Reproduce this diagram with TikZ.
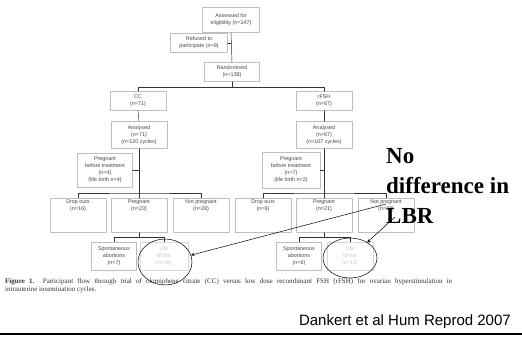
\documentclass[tikz,border=0pt]{standalone}
\usepackage{fontspec}
\setmainfont{Liberation Serif}
\newfontfamily\arialfont{Liberation Sans}
\usetikzlibrary{shapes.geometric}
\tikzset{
	flowbox/.style={draw=gray!50, line width=0.7pt, fill=white, align=center, inner sep=1pt,
		font=\arialfont\fontsize{5.4}{7}\selectfont, text=gray!55!black},
	rowbox/.style={flowbox, minimum width=56, minimum height=34, anchor=north, text height=9, text depth=19},
	flowline/.style={draw=gray!40!black, line width=0.5pt},
	lbrring/.style={draw, ellipse, line width=0.5pt, inner sep=0pt}
}
\begin{document}
\begin{tikzpicture}[x=1pt, y=-1pt, line cap=round, line join=round, >=stealth]
			\useasboundingbox (0,0) rectangle (522,338);
			% top of the chart
			\node[flowbox, minimum width=57, minimum height=25] (assess) at (231,20) {Assessed for\\eligibility (n=147)};
			\node[flowbox, minimum width=57, minimum height=19] (refused) at (199,43) {Refused to\\participate (n=9)};
			\node[flowbox, minimum width=55, minimum height=19] (random) at (232,72) {Randomised\\(n=138)};
			\node[flowbox, minimum width=56, minimum height=19] (cc) at (138,101) {CC\\(n=71)};
			\node[flowbox, minimum width=56, minimum height=19] (rfsh) at (324,101) {rFSH\\(n=67)};
			% analysed and pregnant before treatment
			\node[flowbox, minimum width=56, minimum height=27] (anaCC) at (139,135) {Analysed\\(n=71)\\(n=120 cycles)};
			\node[flowbox, minimum width=56, minimum height=27] (anaR) at (324,135) {Analysed\\(n=67)\\(n=107 cycles)};
			\node[flowbox, minimum width=55, minimum height=34] (pbtCC) at (105,170) {Pregnant\\before treatment\\(n=4)\\(life birth n=4)};
			\node[flowbox, minimum width=58, minimum height=36] (pbtR) at (291,170) {Pregnant\\before treatment\\(n=7)\\(life birth n=2)};
			% outcome rows
			\node[rowbox] (dropCC) at (78,198) {Drop outs\\(n=16)};
			\node[rowbox] (pregCC) at (139,198) {Pregnant\\(n=23)};
			\node[rowbox] (notCC) at (201,198) {Not pregnant\\(n=28)};
			\node[rowbox] (dropR) at (263,198) {Drop outs\\(n=6)};
			\node[rowbox] (pregR) at (324,198) {Pregnant\\(n=21)};
			\node[rowbox] (notR) at (386,198) {Not pregnant\\(n=33)};
			\node[flowbox, minimum width=45, minimum height=28] (spCC) at (114,256) {Spontaneous\\abortions\\(n=7)};
			\node[flowbox, minimum width=48, minimum height=28, draw=gray!30, text=gray!45] (lbCC) at (164,256) {Life\\births\\(n=16)};
			\node[flowbox, minimum width=45, minimum height=28] (spR) at (299,256) {Spontaneous\\abortions\\(n=6)};
			\node[flowbox, minimum width=46, minimum height=28, draw=gray!30, text=gray!45] (lbR) at (350,256) {Life\\births\\(n=15)};
			% tree lines
			\draw[flowline] (assess.south) -- (random.north);
			\draw[flowline] (refused.east) -- (refused.east -| assess.south);
			\draw[flowline] (random.south) -- ++(0,5.5) coordinate (jr);
			\draw[flowline] (cc.north) |- (jr) -| (rfsh.north);
			\draw[flowline] (cc.south) -- (anaCC.north);
			\draw[flowline] (rfsh.south) -- (anaR.north);
			\foreach \a/\p/\d/\g/\n in {anaCC/pbtCC/dropCC/pregCC/notCC, anaR/pbtR/dropR/pregR/notR}{
				\draw[flowline] (\a.south) -- (\a.south |- 0,193) coordinate (j\a);
				\draw[flowline] (\p.east) -- (\p.east -| \a.south);
				\draw[flowline] (\d.north) |- (j\a) -| (\n.north);
				\draw[flowline] (j\a) -- (\g.north);
			}
			\draw[flowline] (pregCC.south) -- ++(0,5) coordinate (jCC);
			\draw[flowline] (spCC.north) |- (jCC) -| (lbCC.north);
			\draw[flowline] (pregR.south) -- ++(0,5) coordinate (jR);
			\draw[flowline] (spR.north) |- (jR) -| (lbR.north);
			% caption and credit
			\node[anchor=north west, text width=447, align=justify, inner sep=0pt, font=\fontsize{7}{8}\selectfont, text=gray!40!black] (caption) at (5,278)
				{\textbf{Figure 1.}\ \ Participant flow through trial of clomiphene citrate (CC) versus low dose recombinant FSH (rFSH) for ovarian hyperstimulation in\linebreak intrauterine insemination cycles.};
			\node[anchor=base east, inner sep=0pt, font=\arialfont\fontsize{15}{18}\selectfont] (credit) at (511,325) {Dankert et al Hum Reprod 2007};
			\draw[line width=1.6pt] (0,334) -- (522,334);
			% remark and arrows
			\node[anchor=north west, align=left, inner sep=0pt, font=\bfseries\fontsize{23}{30}\selectfont] (remark) at (386,148) {No\\difference in\\LBR};
			\node[lbrring, minimum width=54, minimum height=46] (ringCC) at (165,262) {};
			\node[lbrring, minimum width=54, minimum height=40] (ringR) at (350,258) {};
			\coordinate (fromA) at (386,204);
			\coordinate (fromB) at (395,217);
			\draw[->, line width=0.5pt] (fromA) -- (ringCC);
			\draw[->, line width=0.5pt] (fromB) -- (ringR);
\end{tikzpicture}
\end{document}
